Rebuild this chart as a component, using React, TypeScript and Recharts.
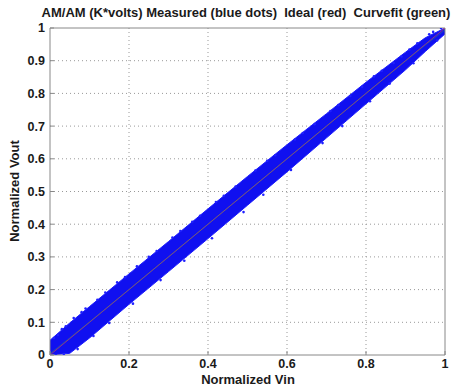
import React from 'react';
import { ComposedChart, Area, Line, Scatter, XAxis, YAxis, CartesianGrid, ReferenceLine } from 'recharts';

// band of measured points
const vin = [0, 0.05, 0.1, 0.2, 0.3, 0.4, 0.5, 0.6, 0.7, 0.8, 0.9, 0.95, 1.0];
const measuredLow = [0, 0.005, 0.052, 0.155, 0.255, 0.356, 0.458, 0.56, 0.664, 0.768, 0.872, 0.928, 0.982];
const measuredHigh = [0.045, 0.098, 0.148, 0.248, 0.347, 0.447, 0.546, 0.643, 0.738, 0.834, 0.926, 0.97, 1.0];
const ideal = [0, 0.05, 0.1, 0.2, 0.3, 0.4, 0.5, 0.6, 0.7, 0.8, 0.9, 0.95, 1.0];
const curvefit = [0.004, 0.052, 0.101, 0.2, 0.3, 0.4, 0.5, 0.6, 0.7, 0.8, 0.899, 0.948, 0.994];

// stray measured dots around the edges of the band
const strayX = [0.01, 0.02, 0.03, 0.04, 0.06, 0.08, 0.09, 0.12, 0.14, 0.17, 0.19, 0.22, 0.25, 0.27, 0.31, 0.33, 0.36, 0.38, 0.42, 0.44, 0.47, 0.52, 0.55, 0.57, 0.62, 0.64, 0.67, 0.71, 0.73, 0.76, 0.79, 0.82, 0.84, 0.87, 0.89, 0.91, 0.93, 0.96, 0.97, 0.99,
  0.015, 0.035, 0.07, 0.11, 0.15, 0.21, 0.28, 0.34, 0.41, 0.49, 0.54, 0.61, 0.69, 0.74, 0.81, 0.86, 0.92, 0.98];
const strayY = [0.052, 0.061, 0.079, 0.088, 0.113, 0.131, 0.142, 0.169, 0.191, 0.222, 0.238, 0.271, 0.3, 0.318, 0.359, 0.379, 0.407, 0.426, 0.468, 0.487, 0.515, 0.564, 0.594, 0.611, 0.659, 0.679, 0.706, 0.746, 0.764, 0.792, 0.82, 0.852, 0.869, 0.893, 0.913, 0.934, 0.953, 0.981, 0.988, 1.0,
  0.0, 0.0, 0.018, 0.058, 0.098, 0.157, 0.229, 0.288, 0.357, 0.437, 0.49, 0.566, 0.648, 0.7, 0.776, 0.83, 0.892, 0.962];

const xTicks = [0, 0.2, 0.4, 0.6, 0.8, 1];
const yTicks = [0, 0.1, 0.2, 0.3, 0.4, 0.5, 0.6, 0.7, 0.8, 0.9, 1];

const rows = vin.map((x, i) => ({ x, band: [measuredLow[i], measuredHigh[i]], ideal: ideal[i], fit: curvefit[i] }));
const stray = strayX.map((x, i) => ({ x, y: strayY[i] }));

const font = '"Liberation Sans", Arial, sans-serif';
const tickStyle = { fill: '#1a1a1a', fontSize: 12.5, fontWeight: 700, fontFamily: font };
const labelStyle = { fontFamily: font, fontSize: 13, fontWeight: 700, fill: '#1a1a1a', whiteSpace: 'pre' as const };

export default function App() {
  return (
    <div style={{ position: 'absolute', left: 0, top: 0, width: 457, height: 387, background: '#fff' }}>
      <ComposedChart width={457} height={387} data={rows} margin={{ top: 28, right: 12, left: 0, bottom: 0 }}>
        <text x={246} y={17} textAnchor="middle" xmlSpace="preserve" style={labelStyle}>
          {'AM/AM (K*volts) Measured (blue dots)  Ideal (red)  Curvefit (green)'}
        </text>
        <text x={248} y={384} textAnchor="middle" style={labelStyle}>Normalized Vin</text>
        <text x={19} y={191} textAnchor="middle" transform="rotate(-90 19 191)" style={labelStyle}>Normalized Vout</text>
        <CartesianGrid stroke="#999" strokeDasharray="1 3" horizontalValues={yTicks.slice(1, -1)} verticalValues={xTicks.slice(1, -1)} />
        <XAxis dataKey="x" type="number" domain={[0, 1]} ticks={xTicks} height={32} stroke="#888" tickSize={-4} tickMargin={8}
          tick={tickStyle} tickFormatter={(v: number) => String(v)} allowDataOverflow />
        <YAxis type="number" domain={[0, 1]} ticks={yTicks} width={50} stroke="#888" tickSize={-4} tickMargin={9}
          tick={tickStyle} tickFormatter={(v: number) => String(v)} allowDataOverflow />
        <ReferenceLine y={1} stroke="#888" />
        <ReferenceLine x={1} stroke="#888" />
        <Area dataKey="band" type="linear" stroke="#1a1aff" strokeWidth={1} fill="#1010f0" fillOpacity={1} isAnimationActive={false} />
        <Scatter data={stray} dataKey="y" fill="#2020ff" shape={(p: any) => <circle cx={p.cx} cy={p.cy} r={1.3} fill="#2020ff" />} isAnimationActive={false} />
        <Line dataKey="ideal" type="linear" stroke="#ff4040" strokeOpacity={0.55} strokeWidth={1} dot={false} isAnimationActive={false} />
        <Line dataKey="fit" type="linear" stroke="#40c040" strokeOpacity={0.35} strokeWidth={1} dot={false} isAnimationActive={false} />
      </ComposedChart>
    </div>
  );
}
